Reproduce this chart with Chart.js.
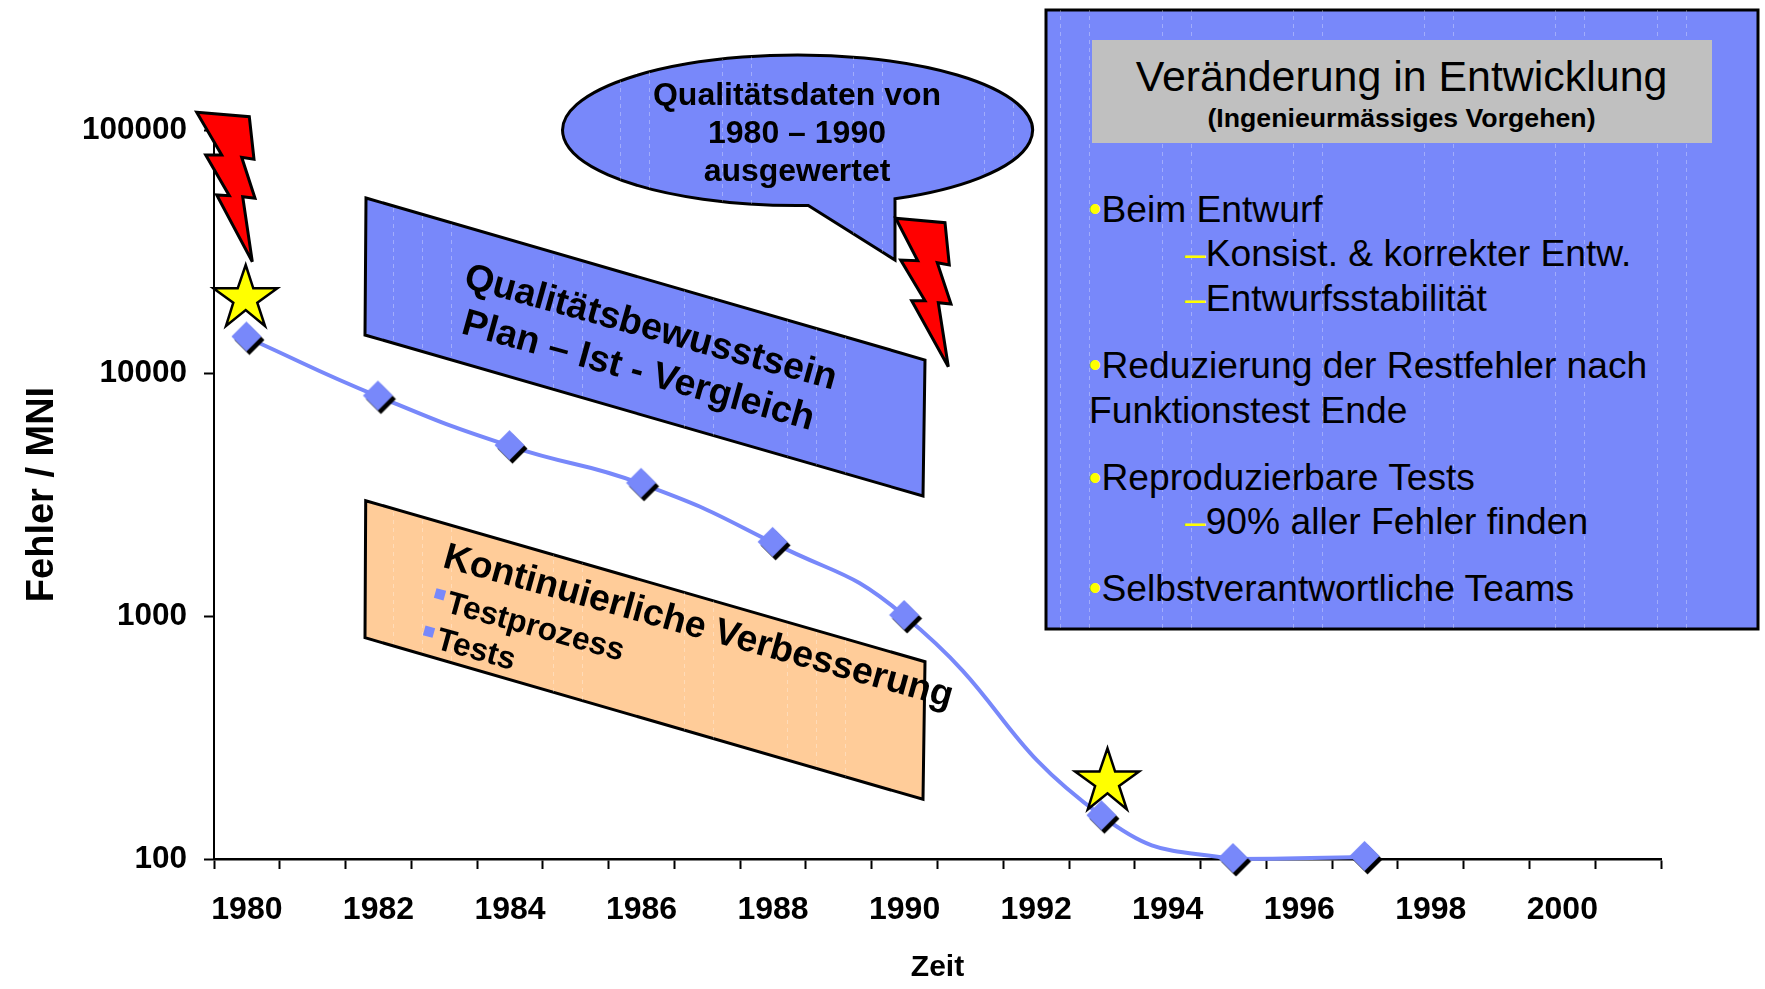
<!DOCTYPE html>
<html>
<head>
<meta charset="utf-8">
<title>Fehler / MNI</title>
<script src="https://cdn.jsdelivr.net/npm/chart.js@4"></script>
<style>
  html, body { margin: 0; padding: 0; background: #fff; }
  #wrap { position: relative; width: 1765px; height: 989px; overflow: hidden; }
  #chart { position: absolute; left: 0; top: 0; }
  #overlay { position: absolute; left: 0; top: 0; font-family: "Liberation Sans", Arial, sans-serif; }
  .b { font-weight: bold; }
  .shape { stroke: #000; stroke-width: 3; stroke-linejoin: miter; }
  .blue { fill: #7888fa; }
</style>
</head>
<body>
<div id="wrap">
  <canvas id="chart" width="1765" height="989"></canvas>
  <svg id="overlay" width="1765" height="989" viewBox="0 0 1765 989">
    <defs>
      <pattern id="stripes" patternUnits="userSpaceOnUse" width="495" height="8">
        <path d="M0.5 0V4M29.5 0V4M102.5 0V4M131.5 0V4M233.5 0V4M262.5 0V4M364.5 0V4M393.5 0V4" stroke="#fff" stroke-opacity=".3" stroke-width="1"/>
      </pattern>
      <pattern id="stripesPanel" href="#stripes" patternTransform="translate(1060 0)"></pattern>
      <pattern id="stripesCallout" href="#stripes" patternTransform="translate(620 0)"></pattern>
      <pattern id="stripesPara" patternUnits="userSpaceOnUse" width="394" height="8" patternTransform="translate(422 0)">
        <path d="M0.5 0V4M29.5 0V4M131.5 0V4M160.5 0V4M262.5 0V4M291.5 0V4M365.5 0V4" stroke="#fff" stroke-opacity=".3" stroke-width="1"/>
      </pattern>
      <polygon id="star" stroke="#000" stroke-width="2.5" fill="#ff0" points="245.7,265 253.3,288.3 277.3,288.3 257.3,302.7 265,326 245.7,310 226,326 233.3,302.7 213.3,288.3 237.7,288.3"/>
    </defs>

    <!-- callout -->
    <path class="shape blue" d="M808.3 205.5 A235 75.3 0 1 1 895 198.8 L895 260 Z"/>
    <path d="M808.3 205.5 A235 75.3 0 1 1 895 198.8 L895 260 Z" fill="url(#stripesCallout)"/>
    <g class="b" font-size="32" text-anchor="middle">
      <text x="797" y="105">Qualitätsdaten von</text>
      <text x="797" y="143">1980 – 1990</text>
      <text x="797" y="181">ausgewertet</text>
    </g>

    <!-- bolts -->
    <polygon class="shape" fill="#f00" points="196.7,112.3 249.3,116.7 254,159.3 241.7,157.3 255,198.3 242.7,196.7 252.3,261.7 216.7,195 229.3,195.7 205.7,155 221.7,155"/>
    <polygon class="shape" fill="#f00" points="895.7,218.3 945,222.7 949.3,265 937.3,262.7 951,304 938.3,302.7 948.3,366.7 911.7,300.7 925,300.7 900.7,260 917.7,260.7"/>

    <!-- stars -->
    <use href="#star"/>
    <use href="#star" transform="translate(861.8 483.3)"/>

    <!-- blue parallelogram -->
    <polygon class="shape blue" points="366,198 925,360 923,496 365,335"/>
    <polygon points="366,198 925,360 923,496 365,335" fill="url(#stripesPara)"/>
    <g class="b" font-size="37.4">
      <text transform="translate(462.5 287) rotate(15.5)">Qualitätsbewusstsein</text>
      <text transform="translate(460 333) rotate(15.5)">Plan – Ist - Vergleich</text>
    </g>

    <!-- peach parallelogram -->
    <polygon class="shape" fill="#ffcc99" points="365.7,500.7 925,661.7 923,799.3 365,637.7"/>
    <polygon points="365.7,500.7 925,661.7 923,799.3 365,637.7" fill="url(#stripesPara)"/>
    <g class="b">
      <text font-size="37.2" transform="translate(441.5 566.7) rotate(15.5)">Kontinuierliche Verbesserung</text>
      <text font-size="31.8" transform="translate(444.5 611.7) rotate(15.5)">Testprozess</text>
      <text font-size="31.8" transform="translate(434.6 648.3) rotate(15.5)">Tests</text>
      <rect x="435" y="589.3" width="10" height="10" fill="#7888fa" transform="rotate(15.5 440 594.3)"/>
      <rect x="424" y="626.7" width="10" height="10" fill="#7888fa" transform="rotate(15.5 429 631.7)"/>
    </g>

    <!-- right panel -->
    <rect class="blue" x="1046" y="10" width="712" height="619" stroke="#000" stroke-width="3"/>
    <rect x="1046" y="10" width="712" height="619" fill="url(#stripesPanel)"/>
    <rect x="1092" y="40" width="620" height="103" fill="#c0c0c0"/>
    <text x="1401.5" y="91" font-size="42.9" text-anchor="middle">Veränderung in Entwicklung</text>
    <text x="1401.5" y="127" font-size="26.7" class="b" text-anchor="middle">(Ingenieurmässiges Vorgehen)</text>
    <g font-size="37.2">
      <text x="1101.5" y="222">Beim Entwurf</text>
      <text x="1185" y="266"><tspan fill="#ff0">–</tspan>Konsist. &amp; korrekter Entw.</text>
      <text x="1185" y="311"><tspan fill="#ff0">–</tspan>Entwurfsstabilität</text>
      <text x="1101.5" y="378">Reduzierung der Restfehler nach</text>
      <text x="1089" y="423">Funktionstest Ende</text>
      <text x="1101.5" y="490">Reproduzierbare Tests</text>
      <text x="1185" y="534"><tspan fill="#ff0">–</tspan>90% aller Fehler finden</text>
      <text x="1101.5" y="601">Selbstverantwortliche Teams</text>
    </g>
    <g font-size="36" fill="#ff0">
      <text x="1088.7" y="221">•</text>
      <text x="1088.7" y="377">•</text>
      <text x="1088.7" y="490">•</text>
      <text x="1088.7" y="600">•</text>
    </g>
  </svg>
</div>

<script>
'use strict';

// ---- Data ----

const years = ['1980','1981','1982','1983','1984','1985','1986','1987','1988','1989','1990',
               '1991','1992','1993','1994','1995','1996','1997','1998','1999','2000','2001'];
const fehler = [14000,null,8000,null,5000,null,3500,null,2000,null,1000,
                null,null,150,null,100,null,102,null,null,null,null];
const yTicks = [100, 1000, 10000, 100000];
const xTickEvery = 2;

const markerBlue = '#7888fa';

// ---- Marker with its black drop shadow ----

function buildMarker() {
  const c = document.createElement('canvas');
  c.width = c.height = 44;
  const g = c.getContext('2d');
  const diamond = (cx, cy, r, col) => {
    g.fillStyle = col;
    g.beginPath();
    g.moveTo(cx, cy - r);
    g.lineTo(cx + r, cy);
    g.lineTo(cx, cy + r);
    g.lineTo(cx - r, cy);
    g.closePath();
    g.fill();
  };
  diamond(24.5, 24.5, 15, '#000');
  diamond(21.5, 21, 15, markerBlue);
  return c;
}

// ---- Chart ----

new Chart(document.getElementById('chart'), {
  type: 'line',
  data: {
    labels: years,
    datasets: [{
      label: 'Fehler / MNI',
      data: fehler,
      borderColor: markerBlue,
      borderWidth: 4,
      tension: 0.5,
      spanGaps: true,
      clip: false,
      pointStyle: buildMarker(),
      pointRadius: 15,
    }]
  },
  options: {
    responsive: false,
    animation: false,
    layout: { padding: { top: 130, right: 104, left: 0, bottom: 0 } },
    plugins: { legend: { display: false }, tooltip: { enabled: false } },
    scales: {
      x: {
        type: 'category',
        offset: true,
        afterFit: s => { s.height = 130; },
        border: { color: '#000', width: 2.5 },
        grid: { display: true, offset: true, drawOnChartArea: false, drawTicks: true, tickLength: 10, tickWidth: 2, tickColor: '#000' },
        ticks: {
          color: '#000',
          autoSkip: false,
          maxRotation: 0,
          padding: 22,
          font: { family: '"Liberation Sans", Arial, sans-serif', size: 32, weight: 'bold' },
          callback(v, i) { return i % xTickEvery === 0 ? this.getLabelForValue(v) : ''; },
        },
        title: {
          display: true,
          text: 'Zeit',
          color: '#000',
          padding: { top: 0, bottom: 3 },
          font: { family: '"Liberation Sans", Arial, sans-serif', size: 30, weight: 'bold' },
        },
      },
      y: {
        type: 'logarithmic',
        min: 100,
        max: 100000,
        afterBuildTicks: s => { s.ticks = yTicks.map(value => ({ value, major: true })); },
        afterFit: s => { s.width = 214; },
        border: { color: '#000', width: 2 },
        grid: { display: true, drawOnChartArea: false, drawTicks: true, tickLength: 10, tickWidth: 2, tickColor: '#000' },
        ticks: {
          color: '#000',
          padding: 17,
          font: { family: '"Liberation Sans", Arial, sans-serif', size: 31.5, weight: 'bold' },
          callback: v => String(v),
        },
        title: {
          display: true,
          text: 'Fehler / MNI',
          color: '#000',
          padding: { top: 20, bottom: 0 },
          font: { family: '"Liberation Sans", Arial, sans-serif', size: 38, weight: 'bold' },
        },
      },
    },
  },
});
</script>
</body>
</html>
